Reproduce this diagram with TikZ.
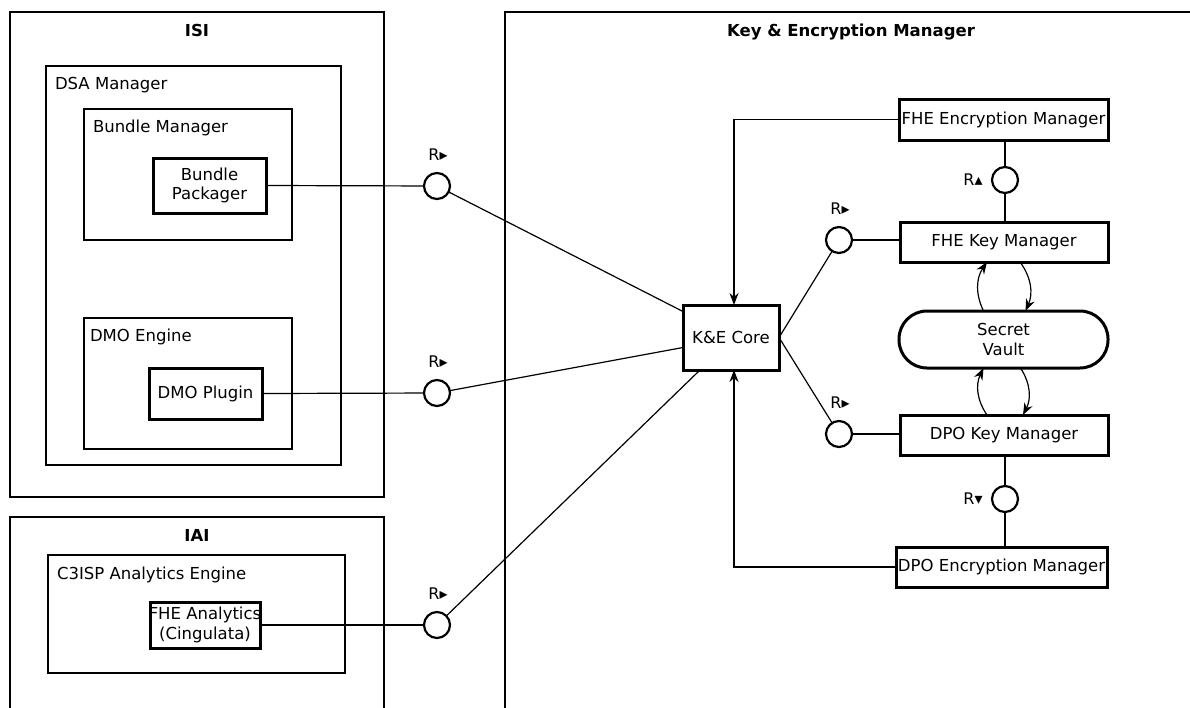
\documentclass[tikz,border=0pt]{standalone}
\usepackage{fontspec}
\setmainfont{DejaVu Sans}
\usetikzlibrary{calc,arrows.meta}
\begin{document}
\begin{tikzpicture}[x=1pt,y=-1pt,
  every node/.style={font=\fontsize{16.5}{19.5}\selectfont, inner sep=0pt, outer sep=0pt},
  cont/.style={draw, line width=2pt, anchor=north west, rectangle},
  comp/.style={draw, line width=3pt, fill=white, align=center, rectangle},
  clabel/.style={anchor=base west},
  ttl/.style={font=\fontsize{16.5}{19.5}\selectfont\bfseries, anchor=base},
  iface/.style={draw, circle, line width=2.2pt, minimum size=26pt, fill=white},
  rl/.style={font=\fontsize{16}{18}\selectfont},
  conn/.style={line width=1.2pt},
  arr/.style={conn, -{Stealth[length=12pt,width=9pt]}}
]
\useasboundingbox (0,0) rectangle (1190,707);
\fill[white] (0,0) rectangle (1190,707);

% containers
\node[cont, minimum width=374pt, minimum height=485pt] (isi) at (10,12) {};
\node[cont, minimum width=374pt, minimum height=260pt] (iai) at (10,517) {};
\node[cont, minimum width=800pt, minimum height=800pt] (kem) at (505,12) {};
\node[cont, minimum width=295pt, minimum height=399pt] (dsa) at (46,66) {};
\node[cont, minimum width=208pt, minimum height=131pt] (bm) at (84,109) {};
\node[cont, minimum width=208pt, minimum height=131pt] (dmoe) at (84,318) {};
\node[cont, minimum width=297pt, minimum height=118pt] (c3) at (48,555) {};

% titles and labels
\node[ttl] (isit) at (197,36) {ISI};
\node[ttl] (iait) at (197,541) {IAI};
\node[ttl] (kemt) at (851,36) {Key \& Encryption Manager};
\node[clabel] (dsal) at (55,89) {DSA Manager};
\node[clabel] (bml) at (93,132) {Bundle Manager};
\node[clabel] (dmoel) at (90,341) {DMO Engine};
\node[clabel] (c3l) at (57,579) {C3ISP Analytics Engine};

% components
\node[comp, minimum width=113pt, minimum height=55pt] (bp) at (209.5,185.5) {Bundle\\Packager};
\node[comp, minimum width=113pt, minimum height=51pt] (dmop) at (205.5,393.5) {DMO Plugin};
\node[comp, minimum width=110pt, minimum height=46pt, inner xsep=-2pt] (fhea) at (205,625) {FHE Analytics\\(Cingulata)};
\node[comp, minimum width=96pt, minimum height=65pt] (kec) at (731,337.5) {K\&E Core};
\node[comp, minimum width=209pt, minimum height=41pt] (fem) at (1003.5,119.5) {FHE Encryption Manager};
\node[comp, minimum width=208pt, minimum height=40pt] (fkm) at (1004,242) {FHE Key Manager};
\node[comp, minimum width=209pt, minimum height=57pt, rounded corners=28pt] (sv) at (1003.5,339.5) {Secret\\Vault};
\node[comp, minimum width=208pt, minimum height=40pt] (dkm) at (1004,435) {DPO Key Manager};
\node[comp, minimum width=211pt, minimum height=40pt] (dem) at (1001.5,567) {DPO Encryption Manager};

% interfaces
\node[iface] (c1) at (437,186) {};
\node[iface] (c2) at (437,393) {};
\node[iface] (c3i) at (437,625) {};
\node[iface] (c4) at (839,240) {};
\node[iface] (c5) at (839,434) {};
\node[iface] (c6) at (1005,180) {};
\node[iface] (c7) at (1005,499) {};

\node[rl] (r1) at (438,155) {R▸};
\node[rl] (r2) at (438,362) {R▸};
\node[rl] (r3) at (438,594) {R▸};
\node[rl] (r4) at (840,209) {R▸};
\node[rl] (r5) at (840,403) {R▸};
\node[rl] (r6) at (973,180) {R▴};
\node[rl] (r7) at (973,499) {R▾};

% connectors
\draw[conn] (bp.east) -- (c1);
\draw[conn] (c1) -- ($(kec.west)+(0,-26)$);
\draw[conn] (dmop.east) -- (c2);
\draw[conn] (c2) -- ($(kec.west)+(0,10)$);
\draw[conn] (fhea.east) -- (c3i);
\draw[conn] (c3i) -- ($(kec.south west)+(17,0)$);
\draw[conn] (kec.east) -- (c4);
\draw[conn] (c4) -- (fkm.west |- c4);
\draw[conn] (kec.east) -- (c5);
\draw[conn] (c5) -- (dkm.west |- c5);
\draw[arr] (fem.west) -| ($(kec.north)+(3,0)$);
\draw[arr] (dem.west) -| ($(kec.south)+(3,0)$);
\draw[conn] (fem.south -| c6) -- (c6);
\draw[conn] (c6) -- (c6 |- fkm.north);
\draw[conn] (dkm.south -| c7) -- (c7);
\draw[conn] (c7) -- (c7 |- dem.north);
\draw[arr] ($(sv.north)+(-20,0)$) to[bend left=30] ($(fkm.south)+(-17,0)$);
\draw[arr] ($(fkm.south)+(16,0)$) to[bend left=30] ($(sv.north)+(22,0)$);
\draw[arr] ($(dkm.north)+(-17,0)$) to[bend left=30] ($(sv.south)+(-20,0)$);
\draw[arr] ($(sv.south)+(17,0)$) to[bend left=30] ($(dkm.north)+(19,0)$);
\end{tikzpicture}
\end{document}
